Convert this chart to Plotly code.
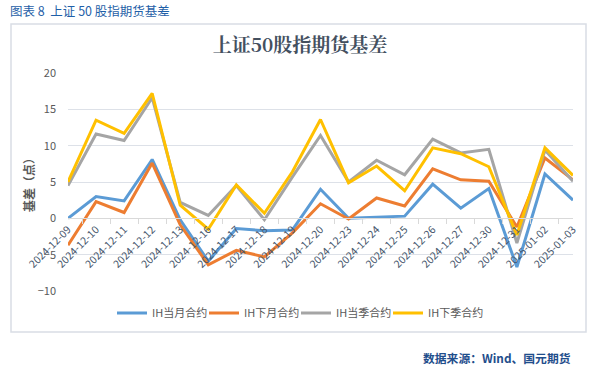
import plotly.graph_objects as go

dates = ["2024-12-09", "2024-12-10", "2024-12-11", "2024-12-12", "2024-12-13",
         "2024-12-16", "2024-12-17", "2024-12-18", "2024-12-19", "2024-12-20",
         "2024-12-23", "2024-12-24", "2024-12-25", "2024-12-26", "2024-12-27",
         "2024-12-30", "2024-12-31", "2025-01-02", "2025-01-03"]

ih_cur_month = [0.0, 3.0, 2.4, 8.1, -0.2, -5.9, -1.4, -1.7, -1.6, 4.0,
                0.0, 0.1, 0.3, 4.7, 1.4, 4.1, -6.7, 6.1, 2.5]
ih_next_month = [-3.7, 2.3, 0.8, 7.6, -0.9, -6.4, -4.4, -5.3, -2.0, 2.0,
                 -0.1, 2.8, 1.7, 6.8, 5.3, 5.1, -1.2, 8.3, 5.3]
ih_cur_quarter = [4.5, 11.6, 10.7, 16.6, 2.2, 0.4, 4.5, -0.2, 5.7, 11.4,
                  5.0, 8.0, 6.0, 10.9, 9.0, 9.5, -3.4, 9.4, 5.1]
ih_next_quarter = [5.0, 13.5, 11.7, 17.2, 1.8, -1.5, 4.6, 0.7, 6.4, 13.6,
                   4.9, 7.2, 3.8, 9.7, 8.9, 7.1, -2.3, 9.7, 5.9]

series_names = ["IH当月合约", "IH下月合约", "IH当季合约", "IH下季合约"]
series_values = [ih_cur_month, ih_next_month, ih_cur_quarter, ih_next_quarter]
colors = ["#5B9BD5", "#ED7D31", "#A5A5A5", "#FFC000"]

W, H = 598, 378
L_S, R_S, T_S, B_S = 68, 573, 73, 291   # plot area in px
ML, MR, MT, MB = L_S, W - R_S, T_S, H - B_S
PW, PH = W - ML - MR, H - MT - MB

def px(x):
    return (x - ML) / PW

def py(y):
    return (H - MB - y) / PH

fig = go.Figure()
for name, vals, c in zip(series_names, series_values, colors):
    fig.add_trace(go.Scatter(x=dates, y=vals, mode="lines", name=name,
                             line=dict(color=c, width=3)))
# invisible spacer so the last legend label is not clipped
fig.add_trace(go.Scatter(x=[None], y=[None], mode="lines", name="",
                         line=dict(color="rgba(0,0,0,0)", width=0), hoverinfo="skip"))

fig.update_layout(
    width=W, height=H,
    margin=dict(l=ML, r=MR, t=MT, b=MB, autoexpand=False),
    paper_bgcolor="white", plot_bgcolor="white",
    font=dict(family="Noto Sans CJK SC", color="#595959"),
    title=dict(text="<b>上证50股指期货基差</b>", x=300 / W, xref="container",
               y=1 - 45 / H, yref="container", xanchor="center", yanchor="middle",
               font=dict(size=19, color="#44505f", family="Noto Serif CJK SC, serif")),
    showlegend=True,
    legend=dict(orientation="h", xref="container", x=112 / W, xanchor="left",
                yref="container", y=1 - 313 / H, yanchor="middle",
                entrywidth=47, entrywidthmode="pixels",
                font=dict(size=11, color="#595959"), itemwidth=30),
    xaxis=dict(type="category", anchor="free", position=1 / 3, automargin=False,
               showline=True, linecolor="#d9d9d9", linewidth=1,
               ticks="outside", tickson="boundaries", ticklen=5, tickcolor="#d9d9d9",
               tickangle=-45, tickfont=dict(size=10.5, color="#44546a"),
               showgrid=False, zeroline=False),
    yaxis=dict(range=[-10, 20], dtick=5, showgrid=True, gridcolor="#dde1e8",
               gridwidth=1, zeroline=False, showline=False, automargin=False,
               tickfont=dict(size=11, color="#595959"), ticks="", ticklabelstandoff=11,
               title=dict(text="<b>基差（点）</b>", font=dict(size=12, color="#595959"),
                          standoff=0)),
)

# outer frame
fig.add_shape(type="rect", xref="paper", yref="paper",
              x0=px(11), x1=px(586), y0=py(332), y1=py(24),
              line=dict(color="#d9dde5", width=1.5), fillcolor="rgba(0,0,0,0)", layer="below")

fig.add_annotation(text="图表 8  上证 50 股指期货基差", xref="paper", yref="paper",
                   x=px(8), y=py(11), xanchor="left", yanchor="middle", showarrow=False,
                   font=dict(size=12.5, color="#1f5fa8", family="Noto Sans CJK SC"))
fig.add_annotation(text="<b>数据来源：Wind、国元期货</b>", xref="paper", yref="paper",
                   x=px(573), y=py(357), xanchor="right", yanchor="middle", showarrow=False,
                   font=dict(size=11.8, color="#1f4e8c", family="Noto Sans CJK SC"))

fig.write_html("out.html", config={"displayModeBar": False},
               post_script="document.body.style.margin='0';")
